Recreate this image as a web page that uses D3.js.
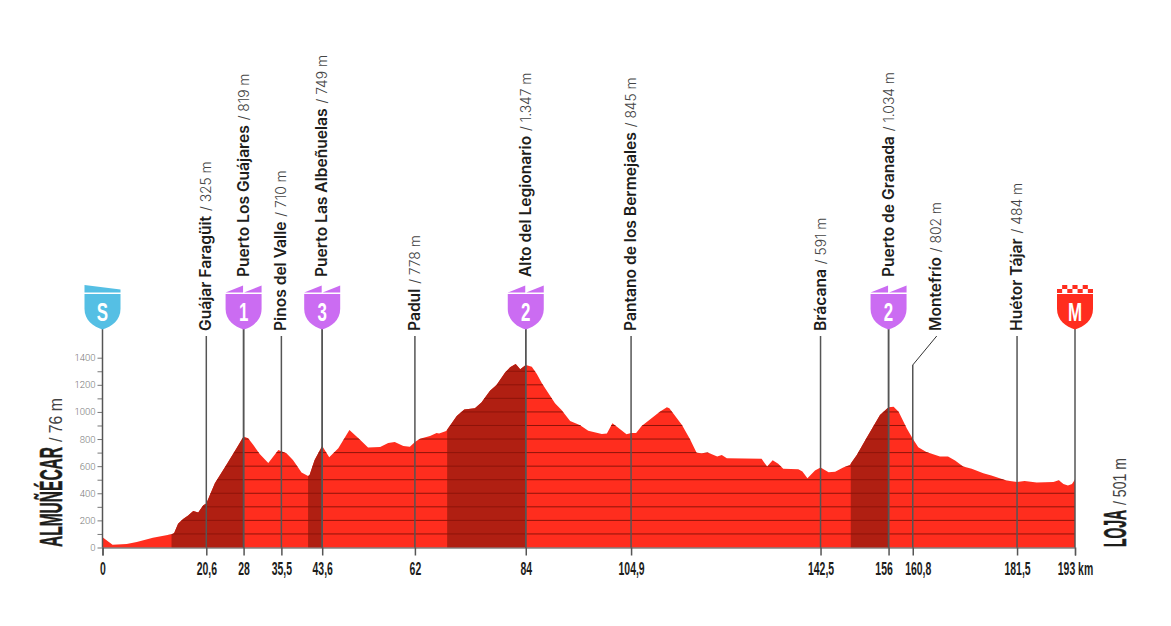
<!DOCTYPE html>
<html>
<head>
<meta charset="utf-8">
<script src="https://cdn.jsdelivr.net/npm/d3@7"></script>
<style>
  html, body { margin: 0; padding: 0; background: #fff; }
  svg { display: block; }
  .narrow { font-family: "Liberation Sans Narrow", "Liberation Sans", sans-serif; }
  .stop { font-family: Inter, "Liberation Sans", sans-serif; fill: #1d1d1b; }
  .stop .name { font-weight: 600; font-size: 15.6px; }
  .stop .alt { font-weight: 300; font-size: 13.8px; fill: #444; }
</style>
</head>
<body>
<svg id="chart" width="1171" height="626"></svg>
<script>
// profile
var profileKm = [0, 2, 4.8, 6.8, 10, 13.7, 14.2, 15, 16, 17, 18, 19, 20, 20.6, 22.3, 24.6, 26.6, 28, 28.9, 29.9, 31.2, 32.9, 34.9, 35.5, 36.5, 37.8, 39.5, 40.8, 41.1, 42.1, 43.6, 45, 46.8, 49, 50.8, 52.7, 55.1, 56.7, 58, 59.7, 61, 62, 63, 65, 66.3, 66.8, 68.2, 69.3, 70.3, 71.8, 73.9, 75.2, 76.9, 78.2, 79.9, 80.9, 82, 82.9, 84, 85.2, 86.2, 87.2, 89.8, 91.1, 92.8, 94.8, 96.4, 99.1, 100.1, 101.2, 104, 104.9, 105.9, 107, 110.6, 112, 112.5, 115, 116.6, 117.9, 118.9, 120.1, 122, 122.9, 123.9, 130.8, 131.9, 133, 134.1, 135.1, 138.1, 138.9, 139.9, 141.4, 142.5, 144.1, 145.4, 147, 148.3, 149.7, 151.6, 154.3, 156, 157, 158, 159.6, 160.8, 161.9, 163.5, 166.2, 167.8, 169.2, 170.8, 172.5, 174.8, 176.4, 179.4, 181.5, 183, 185.4, 188.7, 189.8, 190.7, 191.6, 192.4, 193]
var profileM = [76, 20, 25, 40, 71, 98, 105, 175, 210, 236, 270, 258, 312, 325, 474, 610, 732, 819, 806, 757, 690, 624, 720, 710, 695, 646, 553, 528, 535, 646, 749, 666, 732, 867, 806, 737, 742, 771, 779, 749, 744, 778, 803, 823, 845, 840, 860, 916, 970, 1017, 1027, 1069, 1157, 1199, 1290, 1329, 1354, 1314, 1347, 1334, 1280, 1211, 1064, 1015, 934, 902, 862, 838, 840, 916, 835, 845, 845, 897, 1002, 1034, 1027, 904, 799, 698, 695, 700, 671, 683, 658, 654, 597, 644, 617, 580, 577, 560, 511, 568, 591, 555, 558, 590, 609, 683, 806, 978, 1034, 1039, 1002, 880, 802, 740, 705, 671, 671, 641, 597, 580, 548, 531, 494, 484, 491, 479, 484, 496, 469, 457, 469, 501]

// steep sections shaded darker
var climbStart = [13.7, 40.8, 68.4, 148.5]
var climbEnd = [28, 43.6, 84, 156]

// stops along the route
var stopKm = [20.6, 28, 35.5, 43.6, 62, 84, 104.9, 142.5, 156, 160.8, 181.5]
var stopName = ['Guájar Faragüit', 'Puerto Los Guájares', 'Pinos del Valle', 'Puerto Las Albeñuelas', 'Padul', 'Alto del Legionario', 'Pantano de los Bermejales', 'Brácana', 'Puerto de Granada', 'Montefrío', 'Huétor Tájar']
var stopAlt = ['325 m', '819 m', '710 m', '749 m', '778 m', '1.347 m', '845 m', '591 m', '1.034 m', '802 m', '484 m']
var stopCat = ['', '1', '', '3', '', '2', '', '', '2', '', '']

var elevTicks = [0, 100, 200, 300, 400, 500, 600, 700, 800, 900, 1000, 1100, 1200, 1300, 1400]
var kmTicks = [0, 20.6, 28, 35.5, 43.6, 62, 84, 104.9, 142.5, 156, 160.8, 181.5, 193]

var svg = d3.select('#chart')

var x = d3.scaleLinear().domain([0, 193]).range([102.5, 1075])
var y = d3.scaleLinear().domain([0, 1400]).range([547.5, 357.7])

var red = '#ff2d1e'
var darkRed = '#b01f12'
var purple = '#cb6cf2'
var blue = '#55bfe4'
var lineColor = '#555'

var points = profileKm.map(function (d, i) { return [d, profileM[i]] })

var area = d3.area()
  .x(function (d) { return x(d[0]) })
  .y0(y(0))
  .y1(function (d) { return y(d[1]) })

svg.append('clipPath').attr('id', 'profile-clip')
  .append('path').attr('d', area(points))

svg.append('path').attr('d', area(points)).attr('fill', red)

var inside = svg.append('g').attr('clip-path', 'url(#profile-clip)')

inside.selectAll('.climb')
  .data(climbStart)
  .enter()
  .append('rect')
  .attr('class', 'climb')
  .attr('x', function (d) { return x(d) })
  .attr('width', function (d, i) { return x(climbEnd[i]) - x(d) })
  .attr('y', y(1400))
  .attr('height', y(0) - y(1400))
  .attr('fill', darkRed)

inside.selectAll('.level')
  .data(elevTicks.slice(1))
  .enter()
  .append('line')
  .attr('class', 'level')
  .attr('x1', x(0))
  .attr('x2', x(193))
  .attr('y1', function (d) { return y(d) })
  .attr('y2', function (d) { return y(d) })
  .attr('stroke', '#8e140a')
  .attr('stroke-width', 1)

// squeeze a text to a fraction of its natural width, fonts here are not condensed enough
function squeeze(sel, factor) {
  sel.each(function () {
    var w = this.getComputedTextLength()
    d3.select(this).attr('textLength', w * factor).attr('lengthAdjust', 'spacingAndGlyphs')
  })
}

// Y axis
var yAxis = svg.append('g')
  .attr('transform', 'translate(' + x(0) + ',0)')
  .call(d3.axisLeft(y).tickValues(elevTicks).tickSize(5).tickPadding(2)
    .tickFormat(function (d) { return d % 200 === 0 ? d : '' }))
yAxis.select('.domain').remove()
yAxis.selectAll('line').attr('stroke', '#777')
yAxis.selectAll('text')
  .attr('fill', '#777')
  .attr('font-family', 'Roboto, sans-serif')
  .attr('font-weight', 300)
  .attr('font-size', 9.5)

// X axis
var xAxis = svg.append('g')
  .attr('transform', 'translate(0,' + y(0) + ')')
  .call(d3.axisBottom(x).tickValues(kmTicks).tickSize(8).tickPadding(7)
    .tickFormat(function (d) {
      var s = String(d).replace('.', ',')
      return d === 193 ? s + ' km' : s
    }))
xAxis.select('.domain').attr('stroke', '#444').attr('stroke-width', 1.2)
xAxis.selectAll('line').attr('stroke', lineColor).attr('stroke-width', 1.5)
xAxis.selectAll('text')
  .attr('class', 'narrow')
  .attr('fill', '#1d1d1b')
  .attr('font-size', 18)
  .attr('font-weight', 700)
  .attr('dx', function (d) {
    // these two sit too close, pushed apart like in the original
    if (d === 156) return -5
    if (d === 160.8) return 5
    return 0
  })
  .call(squeeze, 0.58)

// stop lines and labels
var stops = svg.append('g').selectAll('g')
  .data(stopKm)
  .enter()
  .append('g')
  .attr('transform', function (d) { return 'translate(' + x(d) + ',0)' })

stops.append('line')
  .attr('y1', function (d, i) {
    if (stopName[i] === 'Montefrío') return 365
    return stopCat[i] ? 329 : 336
  })
  .attr('y2', y(0))
  .attr('stroke', lineColor)
  .attr('stroke-width', 1.5)

stops.filter(function (d, i) { return stopName[i] === 'Montefrío' })
  .append('path')
  .attr('d', 'M0,365L24,336')
  .attr('fill', 'none')
  .attr('stroke', '#333')
  .attr('stroke-width', 1)

var labels = stops.append('text')
  .attr('class', 'stop')
  .attr('transform', function (d, i) {
    var dx = stopName[i] === 'Montefrío' ? 28 : 5
    return 'translate(' + dx + ',' + (stopCat[i] ? 277 : 331) + ') rotate(-90)'
  })
labels.append('tspan').attr('class', 'name').text(function (d, i) { return stopName[i] })
labels.append('tspan').attr('class', 'alt').attr('dx', 1).text(function (d, i) { return ' / ' + stopAlt[i] })

// shields
function shieldPath() {
  return 'M-18,294L18,294L18,309C18,320 9,327 0,329.5C-9,327 -18,320 -18,309Z'
}

function addShield(km, color, letter) {
  var g = svg.append('g').attr('transform', 'translate(' + x(km) + ',0)')
  g.append('line')
    .attr('y1', 329)
    .attr('y2', y(0))
    .attr('stroke', lineColor)
    .attr('stroke-width', 1.5)
  g.append('path').attr('d', shieldPath()).attr('fill', color)
  g.append('text')
    .attr('class', 'narrow')
    .attr('y', 321)
    .attr('text-anchor', 'middle')
    .attr('fill', '#fff')
    .attr('font-size', 26)
    .attr('font-weight', 700)
    .text(letter)
    .call(squeeze, 0.65)
  return g
}

stopCat.forEach(function (c, i) {
  if (!c) return
  var g = addShield(stopKm[i], purple, c)
  g.append('path').attr('d', 'M-18,292.5L-0.5,285.5L-0.5,292.5Z').attr('fill', purple)
  g.append('path').attr('d', 'M0.5,292.5L18,285.5L18,292.5Z').attr('fill', purple)
})

addShield(0, blue, 'S').append('path')
  .attr('d', 'M-18,285L18,289.5L18,292.5L-18,292.5Z')
  .attr('fill', blue)

var finish = addShield(193, red, 'M')
d3.range(7).forEach(function (i) {
  finish.append('rect')
    .attr('x', -18 + i * 5.14)
    .attr('y', i % 2 ? 285 : 289)
    .attr('width', 5.14)
    .attr('height', 4)
    .attr('fill', red)
})

// start and finish names
function endLabel(px, name, nameLen, alt, altLen) {
  var g = svg.append('g').attr('transform', 'translate(' + px + ',547) rotate(-90)')
  g.append('text')
    .attr('class', 'narrow')
    .attr('font-size', 31)
    .attr('font-weight', 700)
    .attr('fill', '#1d1d1b')
    .attr('stroke', '#1d1d1b')
    .attr('stroke-width', 0.5)
    .attr('textLength', nameLen)
    .attr('lengthAdjust', 'spacingAndGlyphs')
    .text(name)
  g.append('text')
    .attr('class', 'narrow')
    .attr('x', nameLen + 5)
    .attr('font-size', 18)
    .attr('fill', '#444')
    .attr('textLength', altLen)
    .attr('lengthAdjust', 'spacingAndGlyphs')
    .text(alt)
}

endLabel(62, 'ALMUÑÉCAR', 100, '/ 76 m', 44)
endLabel(1126, 'LOJA', 37, '/ 501 m', 47)
</script>
</body>
</html>
